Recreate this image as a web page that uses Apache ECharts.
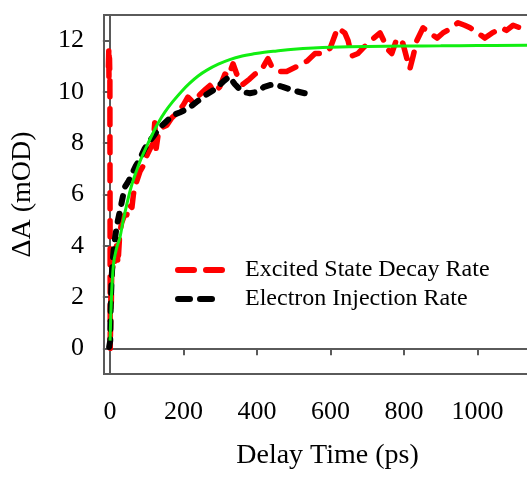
<!DOCTYPE html>
<html><head><meta charset="utf-8">
<script src="https://cdn.jsdelivr.net/npm/echarts@6/dist/echarts.min.js"></script>
<style>html,body{margin:0;padding:0;background:#fff}#c{width:527px;height:479px}</style>
</head><body><div id="c"></div>
<script>
const xTicks = [0, 200, 400, 600, 800, 1000, 1200];
const yTicks = [0, 2, 4, 6, 8, 10, 12];
const seriesNames = ['Excited State Decay Rate', 'Electron Injection Rate'];

const excitedState = [[-4,11.0],[-3,11.6],[-2.5,10.6],[-2,11.4],[-1.5,10.8],[-1,11.3],[0,10.5],[1,0],[2,1.0],[3,2.4],[4,1.8],[5,3.0],[8,3.2],[10,3.8],[14,3.4],[18,4.0],[22,3.3],[27,4.5],[32,4.9],[40,5.2],[46,5.2],[52,5.6],[60,5.5],[64,6.0],[68,6.3],[75,6.6],[82,6.9],[90,7.1],[100,7.5],[110,7.8],[118,8.0],[122,8.8],[126,7.8],[131,8.3],[140,8.6],[155,8.7],[169,9.0],[185,9.2],[200,9.5],[212,9.8],[226,9.6],[245,9.9],[260,10.1],[272,10.25],[285,10.0],[299,10.2],[313,10.7],[322,10.6],[335,11.1],[345,10.7],[362,10.3],[380,10.5],[395,10.7],[410,10.8],[422,11.1],[430,11.3],[440,11.0],[460,10.8],[481,10.8],[510,11.0],[536,11.2],[558,11.5],[580,11.5],[599,11.7],[612,12.2],[620,12.5],[639,12.3],[648,12.0],[658,11.4],[675,11.5],[688,11.7],[710,12.0],[735,12.3],[745,12.0],[753,11.7],[767,11.5],[781,12.1],[797,11.9],[808,11.3],[816,10.9],[825,11.4],[835,12.0],[852,12.5],[870,12.3],[890,12.1],[906,12.3],[930,12.5],[947,12.7],[965,12.6],[980,12.5],[1001,12.3],[1020,12.1],[1040,12.3],[1066,12.5],[1079,12.4],[1097,12.6],[1116,12.5],[1135,12.5]];

const electronInjection = [[-2,0.05],[0,0.0],[1,0.3],[2,1.5],[3,2.0],[5,2.8],[7,3.3],[10,3.8],[14,4.3],[18,4.7],[22,5.0],[28,5.4],[35,5.9],[41,6.3],[50,6.5],[60,6.8],[70,7.1],[82,7.4],[95,7.8],[109,8.1],[120,8.3],[135,8.6],[150,8.8],[172,9.1],[190,9.2],[213,9.35],[235,9.6],[263,9.9],[285,10.1],[308,10.4],[325,10.6],[340,10.3],[360,10.0],[381,9.95],[400,10.0],[420,10.2],[444,10.3],[470,10.2],[500,10.05],[530,9.95]];

const fitCurve = [[0.5,0.3],[3,1.5],[6,2.5],[10,3.3],[15,3.7],[20,4.0],[27,4.3],[35,4.9],[49,5.8],[60,6.4],[73,6.95],[85,7.4],[100,7.88],[115,8.33],[131,8.78],[150,9.22],[171,9.62],[195,10.02],[218,10.35],[240,10.62],[264,10.85],[295,11.08],[326,11.26],[360,11.4],[389,11.48],[420,11.55],[454,11.6],[500,11.66],[553,11.71],[600,11.74],[700,11.77],[800,11.79],[900,11.8],[1000,11.81],[1140,11.82]];

const FONT = '"Liberation Serif", "Times New Roman", serif';
const AX = '#5a5a5a';
const chart = echarts.init(document.getElementById('c'), null, {renderer: 'canvas'});
chart.setOption({
  animation: false,
  backgroundColor: '#fff',
  grid: {left: 104, top: 15, width: 447, height: 359, show: true, borderColor: AX, borderWidth: 2,
    containLabel: false, outerBoundsMode: 'none'},
  legend: {
    data: [
      {name: seriesNames[0], lineStyle: {color: '#ff0000', width: 6, type: [16, 12, 16, 100], cap: 'round'}},
      {name: seriesNames[1], lineStyle: {color: '#000000', width: 6, type: [12, 10, 12, 100], cap: 'round'}}
    ],
    orient: 'vertical', left: 175, top: 258, padding: 0, itemWidth: 62, itemHeight: 14, itemGap: 5,
    itemStyle: {opacity: 0},
    textStyle: {fontFamily: FONT, fontSize: 24, color: '#000'}
  },
  xAxis: {
    type: 'value', min: -16, max: 1200,
    name: 'Delay Time (ps)', nameLocation: 'middle', nameGap: 68,
    nameTextStyle: {fontFamily: FONT, fontSize: 28, color: '#000'},
    axisLine: {show: true, lineStyle: {color: AX, width: 2}},
    axisTick: {show: true, inside: false, length: 7, lineStyle: {color: AX, width: 2}, customValues: xTicks},
    axisLabel: {fontFamily: FONT, fontSize: 26, color: '#000', margin: 25, customValues: xTicks, formatter: v => String(v)},
    splitLine: {show: false}
  },
  yAxis: {
    type: 'value', min: -1, max: 13,
    name: 'ΔA (mOD)', nameLocation: 'middle', nameGap: 67,
    nameTextStyle: {fontFamily: FONT, fontSize: 28, color: '#000'},
    axisLine: {show: true, lineStyle: {color: AX, width: 2}},
    axisTick: {show: true, inside: false, length: 7, lineStyle: {color: AX, width: 2}, customValues: yTicks},
    axisLabel: {fontFamily: FONT, fontSize: 26, color: '#000', margin: 20, customValues: yTicks, formatter: v => String(v)},
    splitLine: {show: false}
  },
  series: [
    {name: seriesNames[0], type: 'line', data: excitedState, showSymbol: false, symbol: 'none', z: 2,
      lineStyle: {color: '#ff0000', width: 5.5, type: [16, 12], cap: 'round', join: 'round'}, itemStyle: {color: '#ff0000'}},
    {name: seriesNames[1], type: 'line', data: electronInjection, showSymbol: false, symbol: 'none', z: 3,
      lineStyle: {color: '#000000', width: 6, type: [8, 10], cap: 'round', join: 'round'}, itemStyle: {color: '#000000'}},
    {name: 'Fit', type: 'line', data: fitCurve, showSymbol: false, symbol: 'none', smooth: 0.4, z: 4,
      lineStyle: {color: '#11ee11', width: 3}, itemStyle: {color: '#11ee11'}}
  ]
});
</script></body></html>
